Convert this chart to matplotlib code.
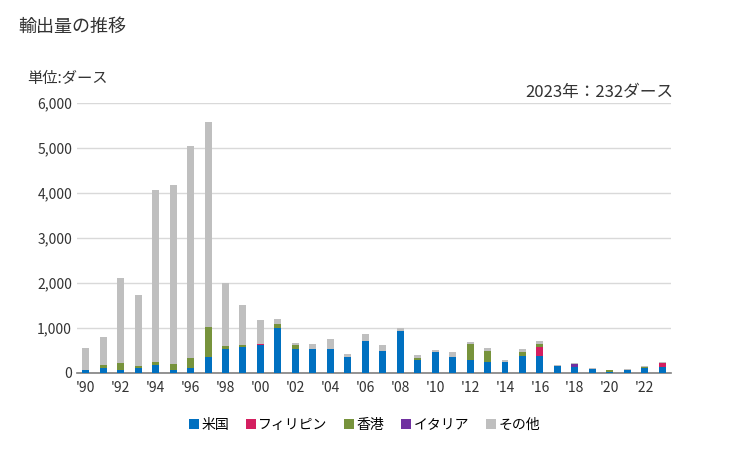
import numpy as np
import matplotlib
matplotlib.use("Agg")
import matplotlib.pyplot as plt

plt.rcParams['font.family'] = ['Noto Sans CJK JP', 'DejaVu Sans']

# データ (単位: ダース)
years = list(range(1990, 2024))
us    = [52, 96, 52, 96, 163, 52, 96, 341, 519, 580, 609, 985, 534, 534, 534, 353, 714, 489, 917, 286,
         466, 353, 286, 241, 241, 376, 376, 150, 130, 90, 22, 67, 112, 125]
phil  = [0, 0, 0, 0, 0, 0, 0, 0, 0, 0, 20, 0, 0, 0, 0, 0, 0, 0, 0, 0,
         0, 0, 0, 0, 0, 0, 203, 0, 0, 0, 0, 0, 0, 85]
hk    = [0, 67, 155, 45, 67, 133, 223, 666, 66, 25, 0, 90, 90, 0, 0, 0, 0, 0, 0, 45,
         0, 0, 361, 248, 0, 90, 68, 0, 0, 0, 45, 0, 22, 0]
italy = [0, 0, 0, 0, 0, 0, 0, 0, 0, 0, 0, 0, 0, 0, 0, 0, 0, 0, 0, 0,
         0, 0, 0, 0, 0, 0, 0, 0, 70, 0, 0, 0, 0, 0]
other = [489, 622, 1889, 1578, 3844, 4000, 4733, 4578, 1400, 890, 535, 113, 45, 113, 225, 68, 136, 135, 68, 67,
         45, 113, 45, 67, 45, 68, 67, 23, 22, 22, 0, 23, 23, 22]

series = [("米国", us, "#0070C0"),
          ("フィリピン", phil, "#D41F60"),
          ("香港", hk, "#77933C"),
          ("イタリア", italy, "#7030A0"),
          ("その他", other, "#BFBFBF")]

fig = plt.figure(figsize=(7.29, 4.5), dpi=100)
ax = fig.add_axes([0.1056, 0.172, 0.8148, 0.599])

x = np.arange(len(years))
bottom = np.zeros(len(years))
for name, vals, col in series:
    ax.bar(x, vals, width=0.4, bottom=bottom, color=col, label=name, zorder=3)
    bottom += np.array(vals)

ax.set_xlim(-0.5, len(years) - 0.5)
ax.set_ylim(0, 6000)
ax.set_yticks(range(0, 6001, 1000))
ax.set_yticklabels([f"{v:,}" for v in range(0, 6001, 1000)])
ax.set_xticks(x[::2])
ax.set_xticklabels(["'" + str(y)[2:] for y in years[::2]])
ax.tick_params(axis='both', length=0, labelsize=10, colors="#333333")
ax.tick_params(axis='x', pad=6)
ax.grid(axis='y', color="#D9D9D9", linewidth=1, zorder=0)
for s in ["top", "right", "left"]:
    ax.spines[s].set_visible(False)
ax.spines["bottom"].set_color("#808080")
ax.spines["bottom"].set_linewidth(1.2)

fig.text(18 / 729, 1 - 27 / 450, "輸出量の推移", fontsize=13, va="center", ha="left", color="#333333")
fig.text(27 / 729, 1 - 78 / 450, "単位:ダース", fontsize=11, va="center", ha="left", color="#333333")
fig.text(673 / 729, 1 - 92 / 450, "2023年：232ダース", fontsize=12, va="center", ha="right", color="#333333")

fig.legend(loc="center", bbox_to_anchor=(0.5, 1 - 425 / 450), ncol=5, frameon=False,
           fontsize=10, handlelength=0.7, handleheight=0.7, handletextpad=0.2, columnspacing=1.2)

fig.savefig("out.png", dpi=100)
